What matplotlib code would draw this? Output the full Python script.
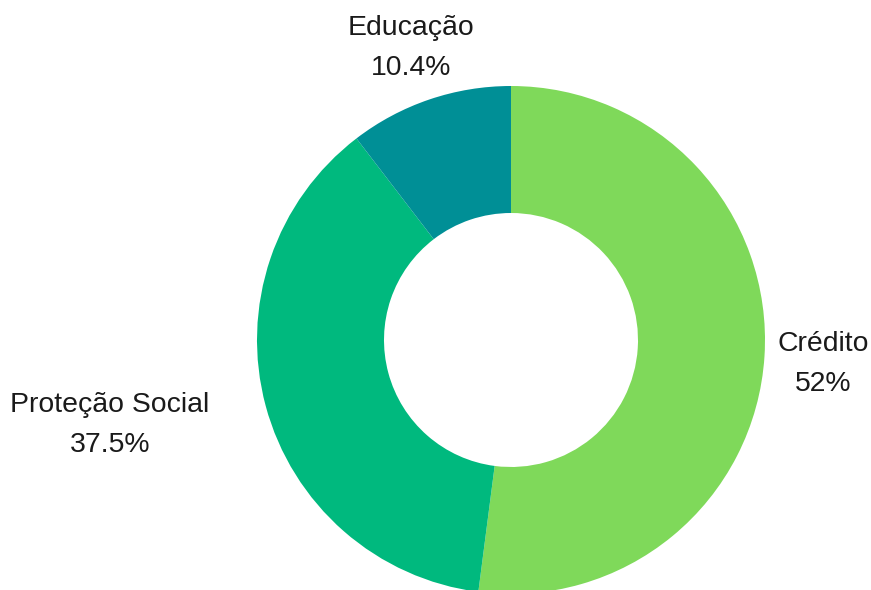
import matplotlib.pyplot as plt
import numpy as np

categories = ['Crédito', 'Proteção Social', 'Educação']
values = [52.0, 37.5, 10.4]
value_labels = ['52%', '37.5%', '10.4%']
colors = ['#7fd95a', '#00b97e', '#008f96']

plt.rcParams['font.family'] = ['Liberation Sans', 'DejaVu Sans']

fig = plt.figure(figsize=(8.71, 5.90), dpi=100)
ax = fig.add_axes([0, 0, 1, 1])

center = (511, 250)
radius = 254
wedges, _ = ax.pie(values, colors=colors, startangle=90, counterclock=False,
                   center=center, radius=radius, frame=True,
                   wedgeprops=dict(width=radius * 0.5, linewidth=0))
ax.set_xlim(0, 871)
ax.set_ylim(0, 590)
ax.set_aspect('equal')
ax.axis('off')

# label placement just outside the ring
for w, cat, lab in zip(wedges, categories, value_labels):
    ang = np.deg2rad((w.theta1 + w.theta2) / 2)
    x = center[0] + radius * 1.23 * np.cos(ang)
    y = center[1] + radius * 1.23 * np.sin(ang) - 4
    ha = 'right' if x < center[0] - radius else 'center'
    ax.text(x, y, f'{cat}\n{lab}', ha=ha, va='center', fontsize=20.4,
            multialignment='center', linespacing=1.7, color='#1a1a1a')

plt.savefig('out.png', dpi=100)
